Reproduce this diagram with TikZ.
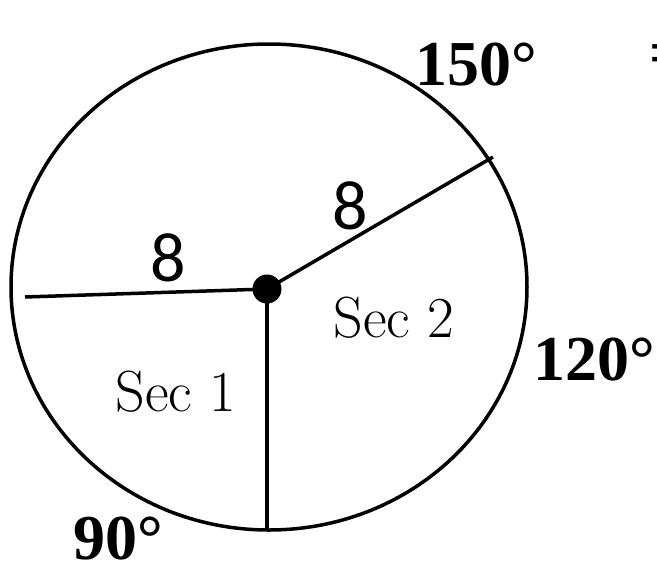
\documentclass[tikz,border=0pt]{standalone}
\usepackage{fontspec}
\newfontfamily\degfont{Liberation Serif}
\newfontfamily\numfont{Carlito}
\begin{document}
\begin{tikzpicture}[x=1pt,y=-1pt,
  edge/.style={line width=3.5pt},
  deg/.style={font=\degfont\bfseries\fontsize{64}{66}\selectfont, inner sep=0pt},
  len/.style={font=\numfont\fontsize{70}{72}\selectfont, inner sep=0pt},
  sec/.style={font=\fontsize{58}{60}\selectfont, inner sep=0pt}]
\useasboundingbox (0,0) rectangle (657,563);
\begin{scope}
\clip (0,0) rectangle (657,563);
\draw[edge] (269,287) ellipse [x radius=258, y radius=243];
\coordinate (L) at (25,297);
\coordinate (B) at (267,530);
\coordinate (R) at (493,157);
\node[circle, fill=black, minimum size=29pt, inner sep=0pt] (C) at (267,289) {};
\draw[edge] (L) -- (C.center);
\draw[edge] (C.center) -- (B);
\draw[edge] (C.center) -- (R);
\node[len] (l1) at (168,258) {8};
\node[len] (l2) at (350,206) {8};
\node[sec] (s2) at (394,318) {Sec 2};
\node[sec] (s1) at (176,392) {Sec 1};
\node[deg] (d150) at (476,65) {150°};
\node[deg] (d120) at (594,360) {120°};
\node[deg] (d90) at (118,539) {90°};
\node[deg, anchor=west] (eq) at (649,60) {=};
\end{scope}
\end{tikzpicture}
\end{document}
